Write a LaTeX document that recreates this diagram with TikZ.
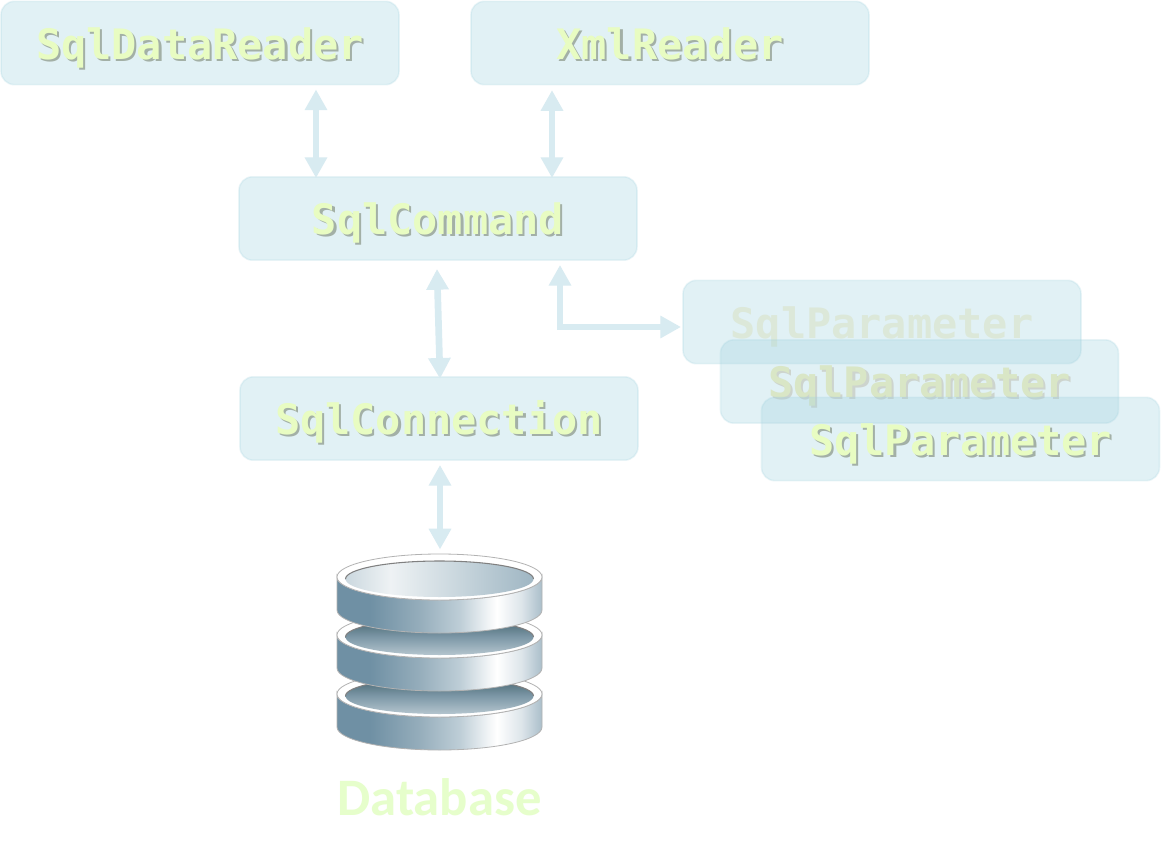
\documentclass[tikz,border=0pt]{standalone}
\usepackage{fontspec}
\setmonofont{DejaVu Sans Mono}
\newfontfamily\dbfont{Carlito}
\usetikzlibrary{arrows.meta,positioning}
\definecolor{boxfill}{HTML}{A1D2DF}
\definecolor{arrowcol}{HTML}{D8EBF1}
\definecolor{labelcol}{HTML}{E8FCC2}
\definecolor{fadedA}{HTML}{DCE8D9}
\definecolor{fadedB}{HTML}{D9E6C6}
\definecolor{shadowcol}{HTML}{A3B0A6}
\definecolor{dblabel}{HTML}{E6FECB}
\definecolor{sa}{HTML}{6F90A4}
\definecolor{sb}{HTML}{95ADBB}
\definecolor{sc}{HTML}{BECED7}
\definecolor{sd}{HTML}{F2F5F7}
\definecolor{se}{HTML}{DDE5EA}
\definecolor{sf}{HTML}{AABECA}
\definecolor{ta}{HTML}{CBD8DF}
\definecolor{tb}{HTML}{EEF2F4}
\definecolor{tc}{HTML}{CFDBE1}
\definecolor{td}{HTML}{9FB6C3}
\definecolor{wa}{HTML}{B4C5CE}
\definecolor{wb}{HTML}{7D98A7}
\definecolor{wc}{HTML}{45646F}
\pgfdeclarehorizontalshading{dbside}{100bp}{color(0bp)=(sa);color(25bp)=(sa);color(33bp)=(sa);color(45bp)=(sb);color(55bp)=(sc);color(62bp)=(sd);color(64bp)=(white);color(70bp)=(se);color(75bp)=(sf);color(100bp)=(sf)}
\pgfdeclarehorizontalshading{dbtop}{100bp}{color(0bp)=(ta);color(25bp)=(ta);color(37bp)=(tb);color(52bp)=(tc);color(75bp)=(td);color(100bp)=(td)}
\pgfdeclareverticalshading{dbwell}{100bp}{color(0bp)=(wa);color(25bp)=(wa);color(50bp)=(wb);color(75bp)=(wc);color(100bp)=(wc)}
\tikzset{
  pagemap/.style={x=0.75pt,y=-0.75pt},
  sqlbox/.style={rounded corners=10pt,minimum width=298.5pt,minimum height=62.5pt,inner sep=0pt,
    fill=boxfill,fill opacity=.31,draw=boxfill,draw opacity=.22,line width=1.2pt,text opacity=1,
    text height=24.5pt,text depth=0pt,font=\ttfamily\bfseries\fontsize{31.4pt}{31.4pt}\selectfont,text=labelcol},
  twoway/.style={draw=arrowcol,line width=5pt,{Triangle[width=16pt,length=15.5pt]}-{Triangle[width=16pt,length=15.5pt]},arrowcol},
  dbrim/.style={fill=white,draw=black!30,line width=.6pt},
  dbbody/.style={shading=dbside,draw=black!30,line width=.6pt},
}
\newcommand{\shadowed}[2][100]{\leavevmode\rlap{\kern1.6pt\raisebox{-1.6pt}{\textcolor{shadowcol!#1!white}{#2}}}#2}
\newcommand{\dbdisc}[2]{%
  \path[dbbody] (337,#1) -- (337,#1+33) arc[start angle=180,end angle=0,x radius=102.5,y radius=23] -- (542,#1) arc[start angle=0,end angle=180,x radius=102.5,y radius=23] -- cycle;
  \path[dbrim] (439.5,#1) ellipse[x radius=102.5,y radius=23];
  \path[shading=#2] (439.5,#1+2) ellipse[x radius=94,y radius=18];
  \draw[black!50,line width=.8pt] (345.5,#1+2) arc[start angle=180,end angle=360,x radius=94,y radius=18];
}
\begin{document}
\begin{tikzpicture}[pagemap]
\useasboundingbox[fill=white] (0,0) rectangle (1161,857);

\node[sqlbox] (reader) at (200,43) {\shadowed{SqlDataReader}};
\node[sqlbox] (xml) at (670,43) {\shadowed{XmlReader}};
\node[sqlbox] (command) at (438,218.5) {\shadowed{SqlCommand}};
\node[sqlbox] (connection) at (439,418.5) {\shadowed{SqlConnection}};
\node[sqlbox,text=fadedA] (paramA) at (882,322) {SqlParameter};
\node[sqlbox,text=fadedB] (paramB) at (919.5,381.5) {\shadowed[55]{SqlParameter}};
\node[sqlbox] (paramC) at (960.5,439) {\shadowed{SqlParameter}};

% database stack
\dbdisc{694}{dbwell}
\dbdisc{635}{dbwell}
\dbdisc{577}{dbtop}
\node[minimum width=153.75pt,minimum height=148pt,inner sep=0pt] (dbicon) at (439.5,653) {};
\node[inner sep=0pt,text=dblabel,font=\dbfont\bfseries\fontsize{39.5pt}{39.5pt}\selectfont] (dblabel) at (439.5,797) {Database};

% connector guides
\coordinate (ga) at (316,100);
\coordinate (gb) at (552,100);
\coordinate (gc) at (560,300);
\coordinate (gd) at (560,327);
\coordinate (ge) at (681,327);
\coordinate (gf) at (437,269);
\coordinate (gg) at (440,378);
\coordinate (gh) at (440,500);

\draw[twoway,shorten <=3pt,shorten >=-1.5pt] (reader.south -| ga) -- (command.north -| ga);
\draw[twoway,shorten <=3.5pt,shorten >=-1.5pt] (xml.south -| gb) -- (command.north -| gb);
\draw[twoway,shorten <=3pt] (command.south -| gc) -- (gd) -- (ge);
\draw[twoway,shorten >=-.5pt] (gf) -- (gg);
\draw[twoway,shorten <=3pt,shorten >=3.5pt] (connection.south -| gh) -- (dbicon.north -| gh);
\end{tikzpicture}
\end{document}
